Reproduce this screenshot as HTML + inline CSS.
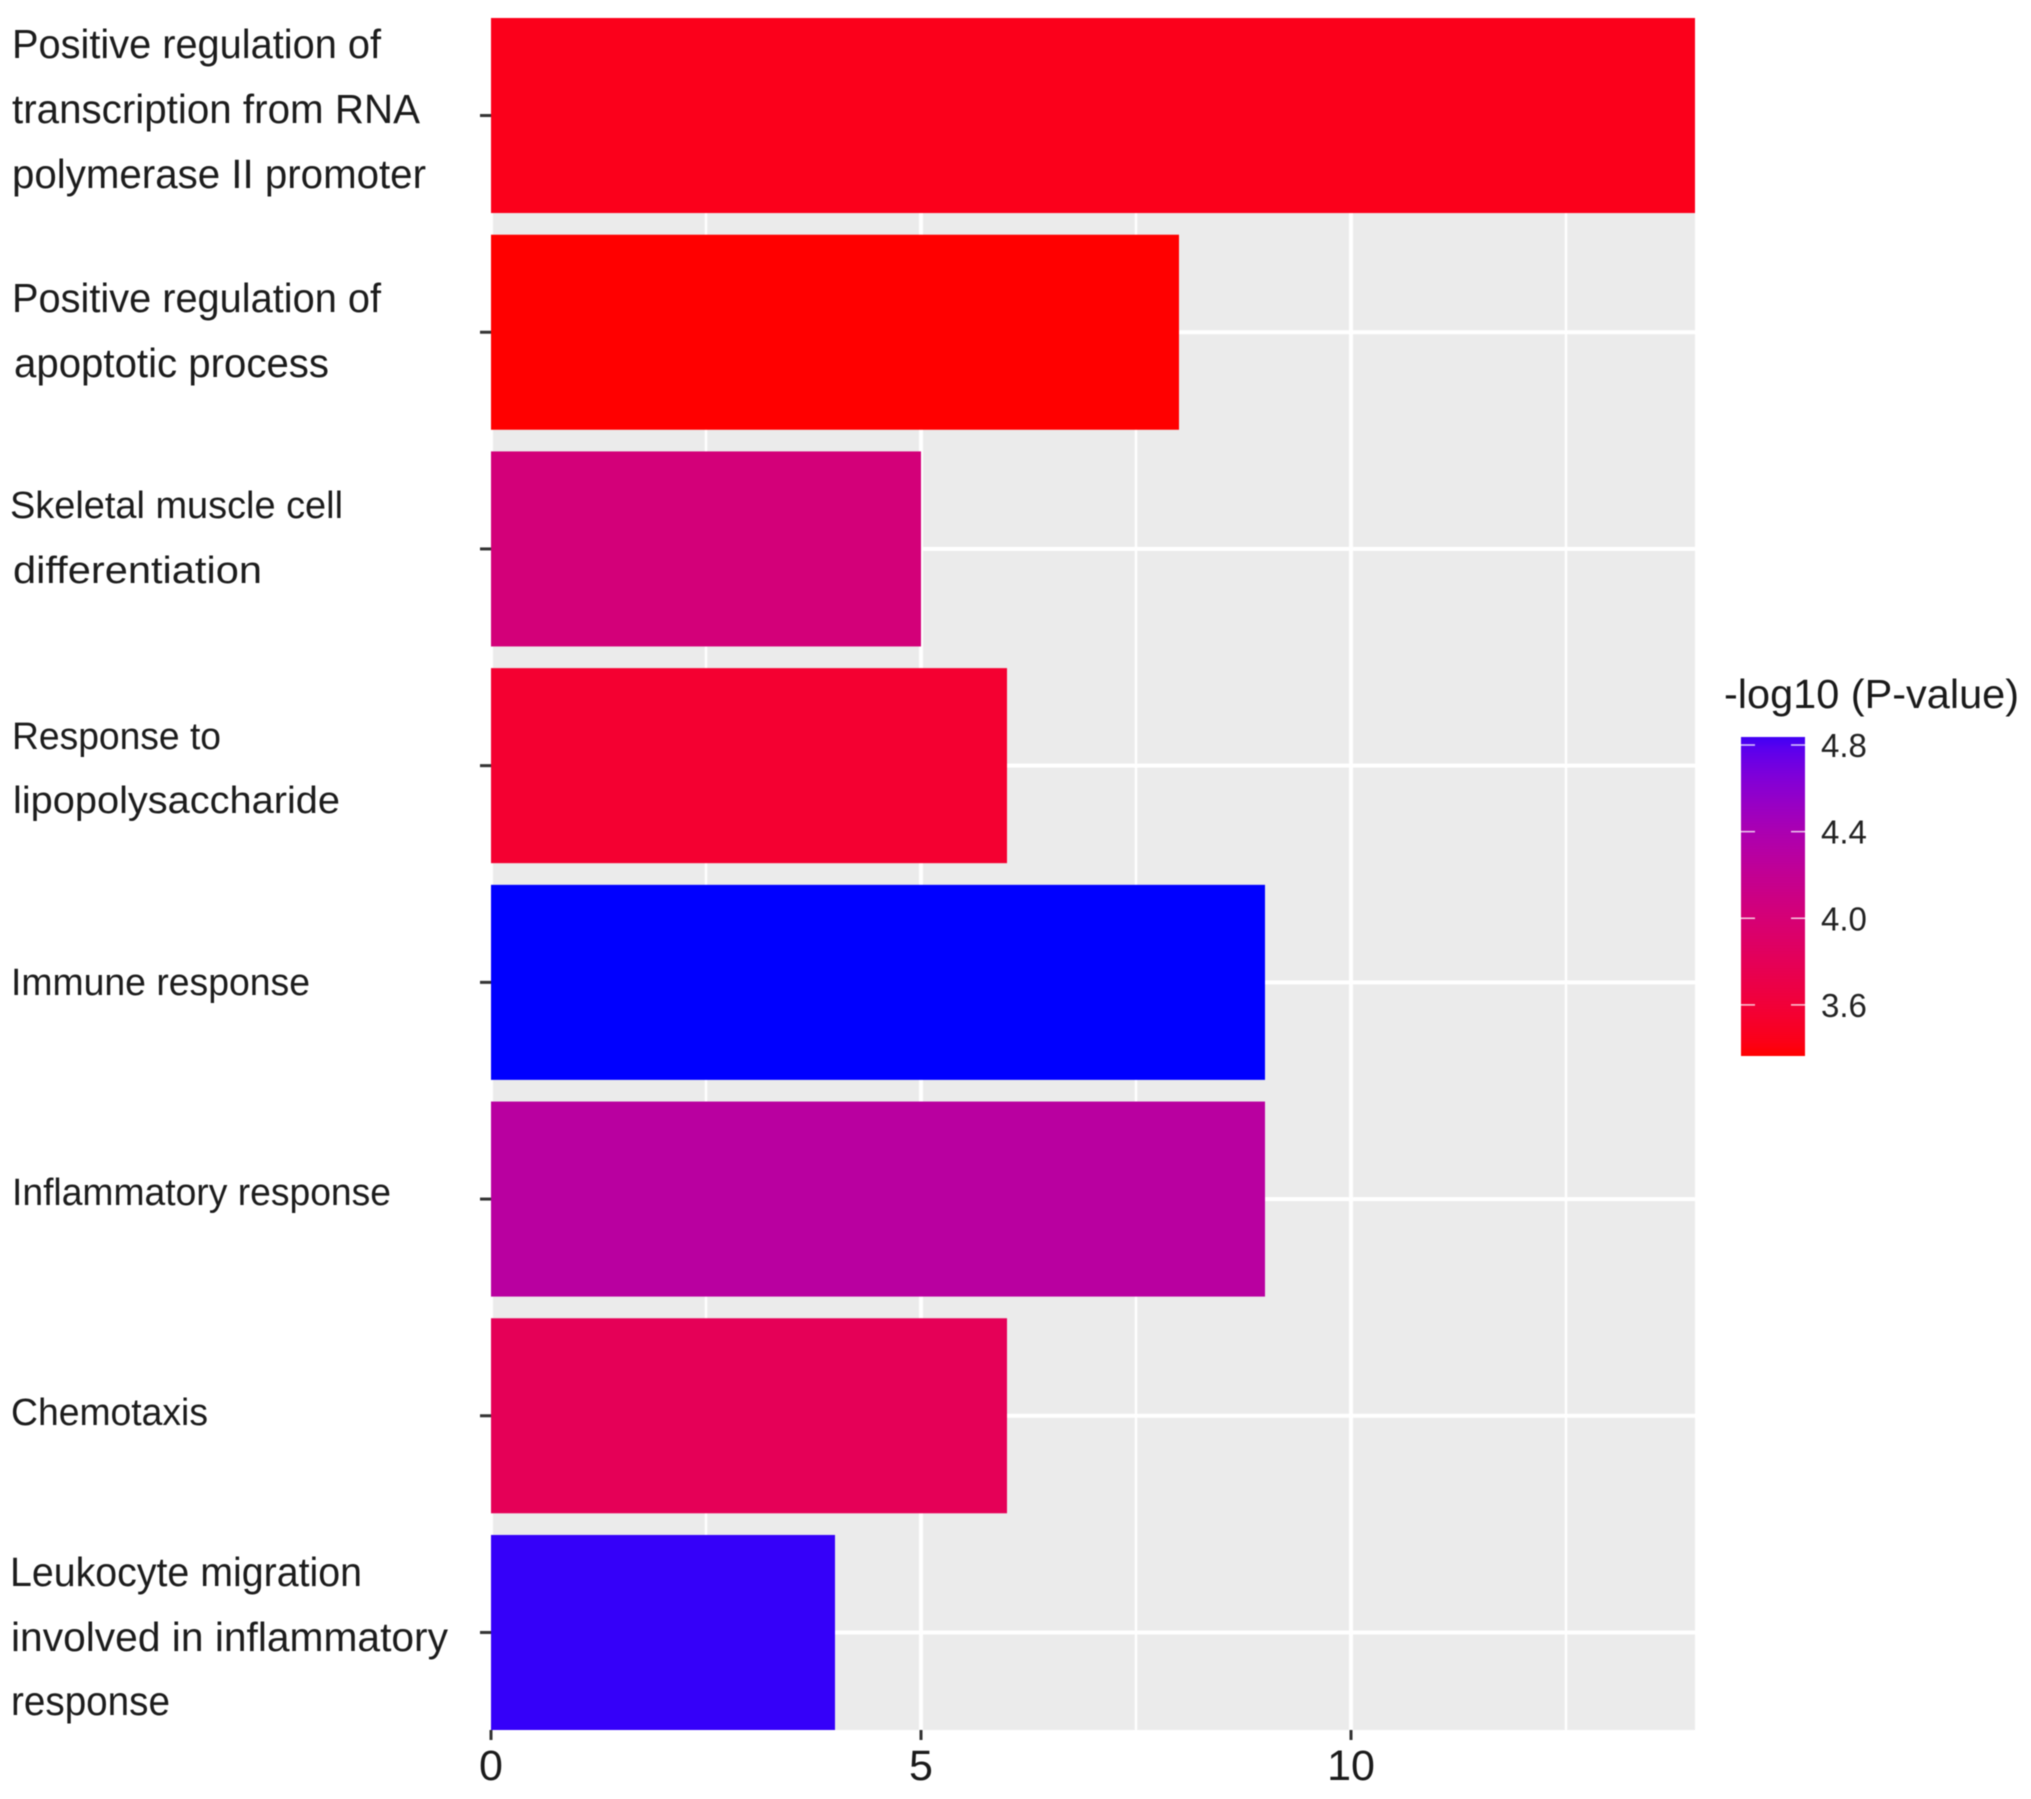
<!DOCTYPE html>
<html lang="en">
<head>
<meta charset="utf-8">
<title>-log10 P-value bar chart</title>
<style>
  html, body { margin: 0; padding: 0; background: #fff; }
  svg { display: block; filter: blur(0.6px); }
  text { font-family: "Liberation Sans", Arial, sans-serif; }
  .cat { font-size: 38px; fill: #1c1c1c; }
  .narrow { font-size: 41px; }
</style>
</head>
<body>
<svg id="chart" xmlns="http://www.w3.org/2000/svg" width="2031" height="1799" viewBox="0 0 2031 1799">
  <defs>
    <linearGradient id="legend-gradient" x1="0" y1="1" x2="0" y2="0"></linearGradient>
  </defs>
  <rect x="0" y="0" width="2031" height="1799" fill="#ffffff"></rect>
  <rect id="panel" fill="#ebebeb"></rect>
  <g id="grid"></g>
  <g id="bars"></g>
  <g id="ticks"></g>
  <g id="x-labels"></g>

  <g>
    <text class="cat narrow" x="12" y="58" textLength="369" lengthAdjust="spacingAndGlyphs">Positive regulation of</text>
    <text class="cat narrow" x="12" y="123" textLength="408" lengthAdjust="spacingAndGlyphs">transcription from RNA</text>
    <text class="cat narrow" x="12" y="188" textLength="414" lengthAdjust="spacingAndGlyphs">polymerase II promoter</text>
    <text class="cat narrow" x="12" y="312" textLength="369" lengthAdjust="spacingAndGlyphs">Positive regulation of</text>
    <text class="cat narrow" x="14" y="377" textLength="315" lengthAdjust="spacingAndGlyphs">apoptotic process</text>
    <text class="cat" x="10" y="518" textLength="333" lengthAdjust="spacingAndGlyphs">Skeletal muscle cell</text>
    <text class="cat" x="13" y="583" textLength="249" lengthAdjust="spacingAndGlyphs">differentiation</text>
    <text class="cat" x="12" y="749" textLength="209" lengthAdjust="spacingAndGlyphs">Response to</text>
    <text class="cat" x="13" y="813" textLength="327" lengthAdjust="spacingAndGlyphs">lipopolysaccharide</text>
    <text class="cat" x="11" y="995" textLength="299" lengthAdjust="spacingAndGlyphs">Immune response</text>
    <text class="cat" x="12" y="1205" textLength="379" lengthAdjust="spacingAndGlyphs">Inflammatory response</text>
    <text class="cat" x="11" y="1425" textLength="197" lengthAdjust="spacingAndGlyphs">Chemotaxis</text>
    <text class="cat narrow" x="10" y="1586" textLength="352" lengthAdjust="spacingAndGlyphs">Leukocyte migration</text>
    <text class="cat narrow" x="11" y="1651" textLength="437" lengthAdjust="spacingAndGlyphs">involved in inflammatory</text>
    <text class="cat narrow" x="11" y="1715" textLength="159" lengthAdjust="spacingAndGlyphs">response</text>
  </g>

  <g id="legend">
    <text x="1724" y="708" font-size="41" fill="#1a1a1a" textLength="295" lengthAdjust="spacingAndGlyphs">-log10 (P-value)</text>
    <rect id="legend-bar" fill="url(#legend-gradient)"></rect>
    <g id="legend-ticks"></g>
  </g>
</svg>

<script>
// ---- chart data ----
const categories = [
  "Positive regulation of transcription from RNA polymerase II promoter",
  "Positive regulation of apoptotic process",
  "Skeletal muscle cell differentiation",
  "Response to lipopolysaccharide",
  "Immune response",
  "Inflammatory response",
  "Chemotaxis",
  "Leukocyte migration involved in inflammatory response"
];
const counts = [14, 8, 5, 6, 9, 9, 6, 4];
const pValues = [3.44, 3.364, 4.0, 3.55, 4.837, 4.25, 3.78, 4.8];
const xMajorTicks = [0, 5, 10];
const xMinorTicks = [2.5, 7.5, 12.5];
const legendTicks = [3.6, 4.0, 4.4, 4.8];
const legendDomain = [3.364, 4.837];
const legendTopColorValue = 4.78;

// ---- layout ----
const SVG_NS = "http://www.w3.org/2000/svg";
const plot = { left: 491, right: 1695, top: 18, bottom: 1730 };
const xMax = 14;
const legendBox = { left: 1741, right: 1805, top: 737, bottom: 1056 };

function xScale(v) {
  return plot.left + (v / xMax) * (plot.right - plot.left);
}
function bandStep() {
  return (plot.bottom - plot.top) / (categories.length - 1 + 0.9);
}
function yCenter(i) {
  return plot.top + bandStep() * (i + 0.45);
}
function legendY(v) {
  const frac = (v - legendDomain[0]) / (legendDomain[1] - legendDomain[0]);
  return legendBox.bottom - frac * (legendBox.bottom - legendBox.top);
}

// Lab interpolation from red to blue, the way ggplot2 gradients behave
const labLow = [53.24, 80.09, 67.2];
const labHigh = [32.3, 79.19, -107.86];
function gammaEncode(c) {
  const clipped = Math.min(1, Math.max(0, c));
  const out = clipped <= 0.0031308 ? 12.92 * clipped : 1.055 * Math.pow(clipped, 1 / 2.4) - 0.055;
  return Math.round(out * 255);
}
function finv(t) {
  return t > 6 / 29 ? t * t * t : 3 * (6 / 29) * (6 / 29) * (t - 4 / 29);
}
function colorFor(v) {
  let t = (v - legendDomain[0]) / (legendDomain[1] - legendDomain[0]);
  t = Math.min(1, Math.max(0, t));
  const L = labLow[0] + t * (labHigh[0] - labLow[0]);
  const a = labLow[1] + t * (labHigh[1] - labLow[1]);
  const b = labLow[2] + t * (labHigh[2] - labLow[2]);
  const fy = (L + 16) / 116;
  const X = 0.95047 * finv(fy + a / 500);
  const Y = finv(fy);
  const Z = 1.08883 * finv(fy - b / 200);
  const r = gammaEncode(3.2406 * X - 1.5372 * Y - 0.4986 * Z);
  const g = gammaEncode(-0.9689 * X + 1.8758 * Y + 0.0415 * Z);
  const bl = gammaEncode(0.0557 * X - 0.204 * Y + 1.057 * Z);
  return "rgb(" + r + "," + g + "," + bl + ")";
}

function make(tag, parentId) {
  const el = document.createElementNS(SVG_NS, tag);
  document.getElementById(parentId).appendChild(el);
  return el;
}
function setAll(el, attrs) {
  Object.keys(attrs).forEach(function (k) { el.setAttribute(k, attrs[k]); });
}

// panel
setAll(document.getElementById("panel"), {
  x: plot.left, y: plot.top,
  width: plot.right - plot.left, height: plot.bottom - plot.top
});

// gridlines
xMinorTicks.forEach(function (v) {
  const line = make("line", "grid");
  
  
  setAll(line, { x1: xScale(v), x2: xScale(v), y1: plot.top, y2: plot.bottom, stroke: "#ffffff", "stroke-width": 2.4 });
});
xMajorTicks.forEach(function (v) {
  const line = make("line", "grid");
  
  
  setAll(line, { x1: xScale(v), x2: xScale(v), y1: plot.top, y2: plot.bottom, stroke: "#ffffff", "stroke-width": 4 });
});
categories.forEach(function (c, i) {
  const line = make("line", "grid");
  
  
  setAll(line, { x1: plot.left, x2: plot.right, y1: yCenter(i), y2: yCenter(i), stroke: "#ffffff", "stroke-width": 4 });
});

// bars
categories.forEach(function (c, i) {
  const barH = bandStep() * 0.9;
  const rect = make("rect", "bars");
  
  
  setAll(rect, {
    x: xScale(0), y: yCenter(i) - barH / 2,
    width: xScale(counts[i]) - xScale(0), height: barH,
    fill: colorFor(pValues[i])
  });
  const title = document.createElementNS(SVG_NS, "title");
  title.textContent = c;
  rect.appendChild(title);
});

// axis ticks
categories.forEach(function (c, i) {
  const tick = make("line", "ticks");
  
  
  setAll(tick, { x1: plot.left - 11, x2: plot.left, y1: yCenter(i), y2: yCenter(i), stroke: "#333333", "stroke-width": 3 });
});
xMajorTicks.forEach(function (v) {
  const tick = make("line", "ticks");
  
  
  setAll(tick, { x1: xScale(v), x2: xScale(v), y1: plot.bottom, y2: plot.bottom + 10, stroke: "#333333", "stroke-width": 3 });
  const label = make("text", "x-labels");
  
  
  setAll(label, { x: xScale(v), y: plot.bottom + 50, "text-anchor": "middle", "font-size": 43, fill: "#1a1a1a" });
  label.textContent = String(v);
});

// legend gradient + ticks
setAll(document.getElementById("legend-bar"), {
  x: legendBox.left, y: legendBox.top,
  width: legendBox.right - legendBox.left, height: legendBox.bottom - legendBox.top
});
const gradient = document.getElementById("legend-gradient");
const gradientSteps = 24;
for (let s = 0; s <= gradientSteps; s++) {
  const f = s / gradientSteps;
  const stop = document.createElementNS(SVG_NS, "stop");
  stop.setAttribute("offset", f);
  stop.setAttribute("stop-color", colorFor(legendDomain[0] + f * (legendTopColorValue - legendDomain[0])));
  gradient.appendChild(stop);
}
legendTicks.forEach(function (v) {
  const y = legendY(v);
  const leftTick = make("line", "legend-ticks");
  
  
  setAll(leftTick, { x1: legendBox.left, x2: legendBox.left + 14, y1: y, y2: y, stroke: "#ffffff", "stroke-opacity": 0.8, "stroke-width": 1.5 });
  const rightTick = make("line", "legend-ticks");
  
  
  setAll(rightTick, { x1: legendBox.right - 14, x2: legendBox.right, y1: y, y2: y, stroke: "#ffffff", "stroke-opacity": 0.8, "stroke-width": 1.5 });
  const label = make("text", "legend-ticks");
  
  
  setAll(label, { x: 1821, y: y + 12, "font-size": 33, fill: "#222222" });
  label.textContent = v.toFixed(1);
});
</script>
</body>
</html>
